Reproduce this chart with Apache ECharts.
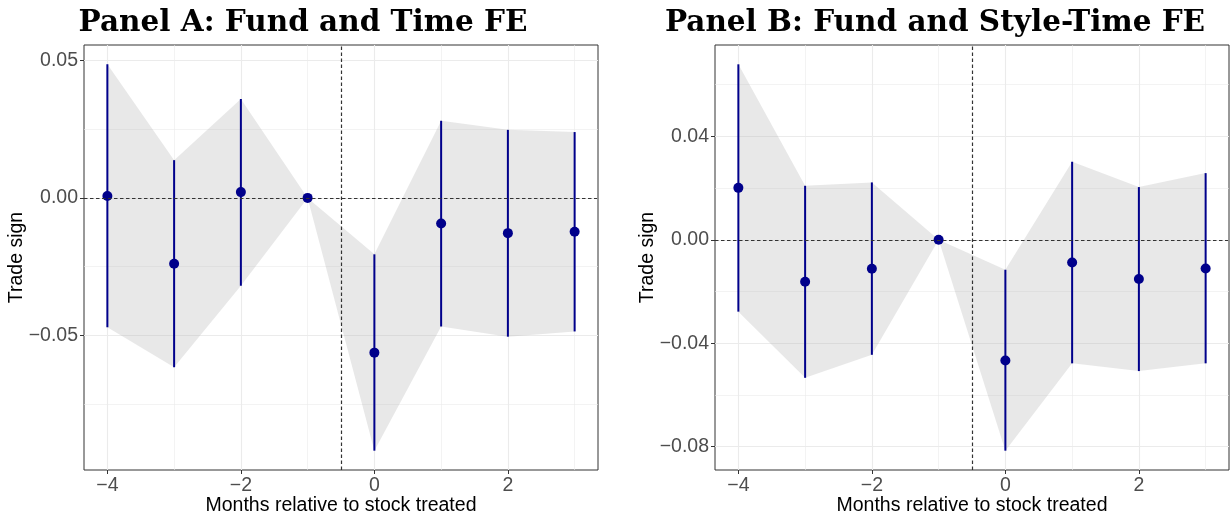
<!DOCTYPE html>
<html>
<head>
<meta charset="utf-8">
<title>Event study: trade sign</title>
<script src="https://cdn.jsdelivr.net/npm/echarts@6/dist/echarts.min.js"></script>
<style>
  html, body { margin: 0; padding: 0; background: #fff; }
  #chart { width: 1231px; height: 518px; }
</style>
</head>
<body>
<div id="chart"></div>
<script>
// months relative to the stock being treated
var months = [-4, -3, -2, -1, 0, 1, 2, 3];

// Panel A: fund and time FE
var estA = [0.0007, -0.0239, 0.0021, 0, -0.0562, -0.0093, -0.0128, -0.0123];
var lowA = [-0.0470, -0.0615, -0.0319, 0, -0.0918, -0.0467, -0.0504, -0.0485];
var highA = [0.0485, 0.0137, 0.0359, 0, -0.0205, 0.0280, 0.0247, 0.0239];

// Panel B: fund and style-time FE
var estB = [0.0201, -0.0162, -0.0112, 0, -0.0467, -0.0088, -0.0152, -0.0111];
var lowB = [-0.0278, -0.0534, -0.0445, 0, -0.0816, -0.0478, -0.0508, -0.0478];
var highB = [0.0679, 0.0209, 0.0222, 0, -0.0116, 0.0302, 0.0204, 0.0258];

// ticks
var xMajor = [-4, -2, 0, 2];
var xMinor = [-3, -1, 1, 3];
var yMajorA = [-0.05, 0, 0.05];
var yMinorA = [-0.075, -0.025, 0.025];
var yMajorB = [-0.08, -0.04, 0, 0.04];
var yMinorB = [-0.06, -0.02, 0.02, 0.06];

var titleA = 'Panel A: Fund and Time FE';
var titleB = 'Panel B: Fund and Style-Time FE';
var xTitle = 'Months relative to stock treated';
var yTitle = 'Trade sign';

var dotColor = '#00008B';
var gridColor = '#EBEBEB';

function fmtNum(v) {
    var s = Math.abs(v).toFixed(2);
    return v < 0 ? '\u2212' + s : s;
}
function fmtInt(v) {
    return v < 0 ? '\u2212' + Math.abs(v) : String(v);
}

// ggplot-like 5% expansion of the data range
function expand(arr) {
    var lo = Math.min.apply(null, arr), hi = Math.max.apply(null, arr);
    var pad = (hi - lo) * 0.05;
    return [lo - pad, hi + pad];
}

var xRange = expand(months);

function axesFor(gi, yRange, yMajor, yMinor) {
    var x = [{
        gridIndex: gi, type: 'value', min: xRange[0], max: xRange[1], position: 'bottom',
        axisLine: { show: false, onZero: false },
        axisTick: { show: true, customValues: xMajor, length: 4, lineStyle: { color: '#333', width: 1 } },
        axisLabel: { customValues: xMajor, formatter: fmtInt, color: '#4D4D4D', fontSize: 19.5,
                     fontFamily: 'Liberation Sans', margin: 6 },
        splitLine: { show: true, lineStyle: { color: gridColor, width: 1.1 } },
        name: xTitle, nameLocation: 'middle', nameGap: 26, nameMoveOverlap: false,
        nameTextStyle: { color: '#000', fontSize: 19.5, fontFamily: 'Liberation Sans' }
    }, {
        gridIndex: gi, type: 'value', min: xRange[0], max: xRange[1], position: 'top',
        axisLine: { show: false, onZero: false },
        axisTick: { show: false, customValues: xMinor },
        axisLabel: { show: false },
        splitLine: { show: true, lineStyle: { color: gridColor, width: 0.6 } }
    }];
    var y = [{
        gridIndex: gi, type: 'value', min: yRange[0], max: yRange[1], position: 'left',
        axisLine: { show: false, onZero: false },
        axisTick: { show: true, customValues: yMajor, length: 4, lineStyle: { color: '#333', width: 1 } },
        axisLabel: { customValues: yMajor, formatter: fmtNum, color: '#4D4D4D', fontSize: 19.5,
                     fontFamily: 'Liberation Sans', margin: 6 },
        splitLine: { show: true, lineStyle: { color: gridColor, width: 1.1 } },
        name: yTitle, nameLocation: 'middle', nameGap: 57, nameMoveOverlap: false,
        nameTextStyle: { color: '#000', fontSize: 19.5, fontFamily: 'Liberation Sans' }
    }, {
        gridIndex: gi, type: 'value', min: yRange[0], max: yRange[1], position: 'right',
        axisLine: { show: false, onZero: false },
        axisTick: { show: false, customValues: yMinor },
        axisLabel: { show: false },
        splitLine: { show: true, lineStyle: { color: gridColor, width: 0.6 } }
    }];
    return { x: x, y: y };
}

function seriesFor(gi, est, low, high) {
    var xi = gi * 2, yi = gi * 2;
    var rows = months.map(function (m, i) { return [m, low[i], high[i]]; });
    return [
        // reference lines
        {
            type: 'line', xAxisIndex: xi, yAxisIndex: yi, data: [], silent: true,
            markLine: {
                symbol: 'none', silent: true, label: { show: false },
                lineStyle: { color: '#333', type: [3.5, 2.5], width: 1.2 },
                data: [{ yAxis: 0 }, { xAxis: -0.5 }]
            }
        },
        // confidence band
        {
            type: 'custom', xAxisIndex: xi, yAxisIndex: yi, data: rows, silent: true,
            renderItem: function (params, api) {
                if (params.dataIndex !== 0) return null;
                var top = [], bot = [];
                for (var i = 0; i < months.length; i++) {
                    top.push(api.coord([months[i], high[i]]));
                    bot.unshift(api.coord([months[i], low[i]]));
                }
                return {
                    type: 'polygon',
                    shape: { points: top.concat(bot) },
                    style: { fill: 'rgba(179,179,179,0.3)' }
                };
            }
        },
        // error bars
        {
            type: 'custom', xAxisIndex: xi, yAxisIndex: yi, data: rows, silent: true,
            renderItem: function (params, api) {
                var p1 = api.coord([api.value(0), api.value(2)]);
                var p2 = api.coord([api.value(0), api.value(1)]);
                return {
                    type: 'line',
                    shape: { x1: p1[0], y1: p1[1], x2: p2[0], y2: p2[1] },
                    style: { stroke: dotColor, lineWidth: 2 }
                };
            }
        },
        // point estimates
        {
            type: 'scatter', xAxisIndex: xi, yAxisIndex: yi, silent: true,
            symbolSize: 10, itemStyle: { color: dotColor, opacity: 1 },
            data: months.map(function (m, i) { return [m, est[i]]; })
        }
    ];
}

var axA = axesFor(0, expand(lowA.concat(highA)), yMajorA, yMinorA);
var axB = axesFor(1, expand(lowB.concat(highB)), yMajorB, yMinorB);

var chart = echarts.init(document.getElementById('chart'));
var option = {
    backgroundColor: '#fff',
    animation: false,
    title: [{
        text: titleA, left: 303, top: 8, textAlign: 'center', padding: 0,
        textStyle: { fontFamily: 'DejaVu Serif', fontWeight: 'bold', fontSize: 29.5, color: '#000' }
    }, {
        text: titleB, left: 935, top: 8, textAlign: 'center', padding: 0,
        textStyle: { fontFamily: 'DejaVu Serif', fontWeight: 'bold', fontSize: 29.5, color: '#000' }
    }],
    grid: [
        { left: 84, top: 45, width: 514, height: 425, show: true, backgroundColor: '#fff',
          borderColor: '#333', borderWidth: 1, outerBoundsMode: 'none', containLabel: false },
        { left: 715, top: 45, width: 514, height: 425, show: true, backgroundColor: '#fff',
          borderColor: '#333', borderWidth: 1, outerBoundsMode: 'none', containLabel: false }
    ],
    xAxis: axA.x.concat(axB.x),
    yAxis: axA.y.concat(axB.y),
    series: seriesFor(0, estA, lowA, highA).concat(seriesFor(1, estB, lowB, highB))
};
chart.setOption(option);
window.addEventListener('resize', function () { chart.resize(); });
</script>
</body>
</html>
